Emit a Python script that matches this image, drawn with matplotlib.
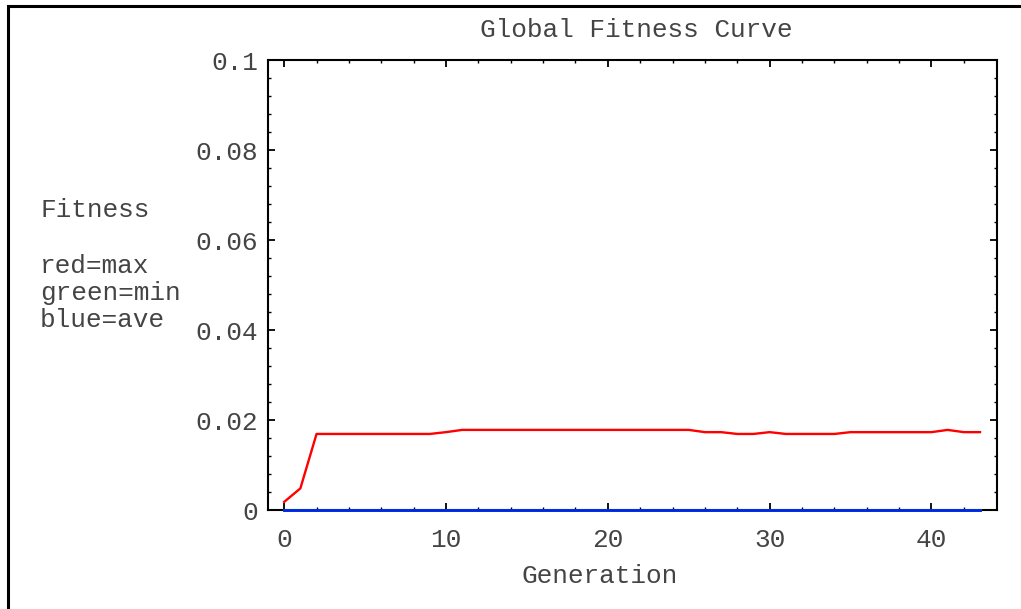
import numpy as np
import matplotlib.pyplot as plt
from matplotlib.lines import Line2D

# fitness per generation
generation = list(range(44))
fit_max = [0.0018, 0.0048, 0.0169, 0.0169, 0.0169, 0.0169, 0.0169, 0.0169, 0.0169, 0.0169,
           0.0173, 0.0178, 0.0178, 0.0178, 0.0178, 0.0178, 0.0178, 0.0178, 0.0178, 0.0178,
           0.0178, 0.0178, 0.0178, 0.0178, 0.0178, 0.0178, 0.0173, 0.0173, 0.0169, 0.0169,
           0.0173, 0.0169, 0.0169, 0.0169, 0.0169, 0.0173, 0.0173, 0.0173, 0.0173, 0.0173,
           0.0173, 0.0178, 0.0173, 0.0173]
fit_min = [0, 0, 0, 0, 0, 0, 0, 0, 0, 0, 0, 0, 0, 0, 0, 0, 0, 0, 0, 0, 0, 0,
           0, 0, 0, 0, 0, 0, 0, 0, 0, 0, 0, 0, 0, 0, 0, 0, 0, 0, 0, 0, 0, 0]
fit_ave = [0, 0, 0, 0, 0, 0, 0, 0, 0, 0, 0, 0, 0, 0, 0, 0, 0, 0, 0, 0, 0, 0,
           0, 0, 0, 0, 0, 0, 0, 0, 0, 0, 0, 0, 0, 0, 0, 0, 0, 0, 0, 0, 0, 0]
ylabel_lines = ['Fitness', 'red=max', 'green=min', 'blue=ave']

W, H = 1021, 609
plt.rcParams['font.family'] = ['Liberation Mono', 'DejaVu Sans Mono']
fs = 18.8
col = '#444444'

fig = plt.figure(figsize=(W / 100, H / 100), dpi=100)
ax = fig.add_axes([268 / W, (H - 510) / H, (997 - 268) / W, (510 - 60) / H])

# lines sit on top of the frame like the original
ax.plot(generation, fit_max, color='#ff0000', lw=1.7, zorder=3, clip_on=False)
ax.plot(generation, fit_min, color='#00cc00', lw=2, zorder=3, clip_on=False)
ax.plot(generation, fit_ave, color='#0022ee', lw=2, zorder=3, clip_on=False)

ax.set_xlim(-1, 44.05)
ax.set_ylim(0, 0.1)
ax.set_xticks([0, 10, 20, 30, 40])
ax.set_xticks(np.arange(0, 44, 2), minor=True)
ax.set_yticks([0, 0.02, 0.04, 0.06, 0.08, 0.1])
ax.set_yticklabels(['0', '0.02', '0.04', '0.06', '0.08', '0.1'])
ax.set_yticks(np.arange(0, 0.1, 0.004), minor=True)
ax.tick_params(which='both', direction='in', top=True, right=True, colors='black',
               labelcolor=col, labelsize=fs)
ax.tick_params(which='major', length=5, width=1.3)
ax.tick_params(which='minor', length=2.5, width=1)
ax.tick_params(axis='y', pad=7)
ax.tick_params(axis='x', pad=13)
for s in ax.spines.values():
    s.set_linewidth(1.5)
    s.set_color('black')

def fy(py):
    return (H - py) / H

fig.text(636 / W, fy(37), 'Global Fitness Curve', ha='center', va='baseline', fontsize=fs, color=col)
fig.text(600 / W, fy(583), 'Generation', ha='center', va='baseline', fontsize=fs, color=col)
for txt, py in zip(ylabel_lines, [217.5, 273, 300, 327]):
    fig.text(40 / W, fy(py), txt, ha='left', va='baseline', fontsize=fs, color=col)

# outer frame (left and top edges only)
fig.add_artist(Line2D([7.5 / W, 7.5 / W, 1], [0, fy(6), fy(6)], transform=fig.transFigure,
                      color='black', lw=2.2, solid_joinstyle='miter'))

fig.savefig('out.png', dpi=100)
